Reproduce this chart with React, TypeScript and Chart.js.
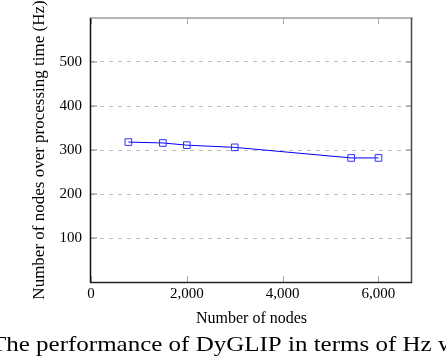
import React, { useEffect, useRef } from 'react';
import { Chart, registerables } from 'chart.js';

Chart.register(...registerables);

const nodeCounts = [780, 1500, 2000, 3000, 5430, 6000];
const hzValues = [318, 316, 311, 306, 282, 282];
const xTickValues = [0, 2000, 4000, 6000];
const yTickValues = [100, 200, 300, 400, 500];
const xAxisTitle = 'Number of nodes';
const yAxisTitle = 'Number of nodes over processing time (Hz)';
const captionText = 'The performance of DyGLIP in terms of Hz w';

const SERIF = '"Liberation Serif", "Times New Roman", serif';

const framePlugin = {
  id: 'pgfFrame',
  afterDraw(chart: any) {
    const { ctx, chartArea: a, scales } = chart;
    const line = (x1: number, y1: number, x2: number, y2: number) => {
      ctx.beginPath();
      ctx.moveTo(x1, y1);
      ctx.lineTo(x2, y2);
      ctx.stroke();
    };
    ctx.save();
    // inward tick marks
    ctx.lineWidth = 1;
    ctx.strokeStyle = '#a8a8a8';
    xTickValues.forEach((v) => {
      const x = Math.round(scales.x.getPixelForValue(v)) + 0.5;
      line(x, a.top, x, a.top + 6);
      line(x, a.bottom - 6, x, a.bottom);
    });
    ctx.strokeStyle = '#888888';
    yTickValues.forEach((v) => {
      const y = scales.y.getPixelForValue(v);
      line(a.left, y, a.left + 6, y);
      line(a.right - 6, y, a.right, y);
    });
    // frame
    ctx.lineWidth = 2;
    ctx.strokeStyle = '#b4b4b4';
    line(a.left - 1, a.top, a.right + 1, a.top);
    ctx.lineWidth = 1.5;
    ctx.strokeStyle = '#4a4a4a';
    line(a.right - 0.5, a.top, a.right - 0.5, a.bottom + 1);
    ctx.strokeStyle = '#111111';
    line(a.left - 0.5, a.top, a.left - 0.5, a.bottom + 1);
    ctx.strokeStyle = '#222222';
    line(a.left - 1, a.bottom + 0.5, a.right, a.bottom + 0.5);

    ctx.fillStyle = '#000000';
    // y-axis title
    ctx.save();
    ctx.translate(40, (a.top + a.bottom) / 2);
    ctx.rotate(-Math.PI / 2);
    ctx.font = `17px ${SERIF}`;
    ctx.textAlign = 'center';
    ctx.textBaseline = 'middle';
    ctx.fillText(yAxisTitle, 0, 0);
    ctx.restore();

    // x-axis title
    ctx.font = `16px ${SERIF}`;
    ctx.textAlign = 'center';
    ctx.textBaseline = 'middle';
    ctx.fillText(xAxisTitle, (a.left + a.right) / 2, a.bottom + 36.5);

    // caption
    ctx.save();
    ctx.translate(-9, 351);
    ctx.scale(1.19, 1);
    ctx.font = `21px ${SERIF}`;
    ctx.textAlign = 'left';
    ctx.textBaseline = 'alphabetic';
    ctx.fillText(captionText, 0, 0);
    ctx.restore();

    ctx.restore();
  },
};

export default function App() {
  const canvasRef = useRef<HTMLCanvasElement | null>(null);

  useEffect(() => {
    if (!canvasRef.current) return;
    const chart = new Chart(canvasRef.current, {
      type: 'line',
      data: {
        datasets: [
          {
            data: nodeCounts.map((x, i) => ({ x, y: hzValues[i] })),
            borderColor: '#0000ff',
            borderWidth: 1,
            pointStyle: 'rect',
            pointRadius: 4.7,
            pointBorderWidth: 1,
            pointBorderColor: '#3030ff',
            pointBackgroundColor: 'rgba(0,0,0,0)',
            fill: false,
            tension: 0,
          },
        ],
      },
      options: {
        animation: false,
        responsive: false,
        devicePixelRatio: 1,
        events: [],
        layout: { padding: { top: 16, right: 34, left: 0, bottom: 0 } },
        plugins: { legend: { display: false }, tooltip: { enabled: false } },
        scales: {
          x: {
            type: 'linear',
            min: 0,
            max: 6700,
            afterBuildTicks: (scale: any) => {
              scale.ticks = xTickValues.map((v) => ({ value: v }));
            },
            afterFit: (scale: any) => {
              scale.height = 76;
            },
            grid: { display: false, drawTicks: false },
            border: { display: false },
            ticks: {
              padding: 3,
              color: '#000',
              font: { family: SERIF, size: 15 },
              maxRotation: 0,
              callback: (v: any) => Number(v).toLocaleString('en-US'),
            },
          },
          y: {
            type: 'linear',
            min: 0,
            max: 600,
            afterBuildTicks: (scale: any) => {
              scale.ticks = yTickValues.map((v) => ({ value: v }));
            },
            afterFit: (scale: any) => {
              scale.width = 91;
            },
            grid: { color: '#bdbdbd', lineWidth: 1, drawTicks: false },
            border: { display: false, dash: [4, 5] },
            ticks: {
              padding: 9,
              color: '#000',
              font: { family: SERIF, size: 15 },
              callback: (v: any) => String(v),
            },
          },
        },
      },
      plugins: [framePlugin],
    } as any);
    return () => chart.destroy();
  }, []);

  return (
    <div style={{ position: 'fixed', left: 0, top: 0, width: 446, height: 358, background: '#fff' }}>
      <canvas ref={canvasRef} width={446} height={358} style={{ width: 446, height: 358 }} />
    </div>
  );
}
